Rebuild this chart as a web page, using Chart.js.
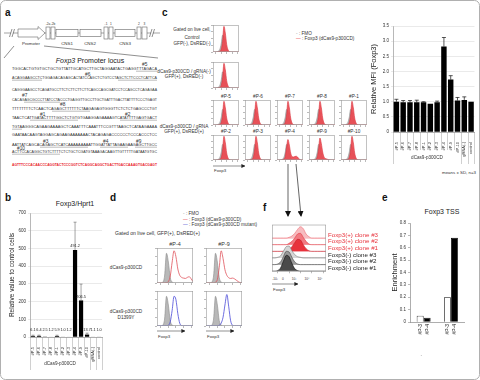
<!DOCTYPE html>
<html lang="en">
<head>
<meta charset="UTF-8">
<meta name="viewport" content="width=device-width, initial-scale=1.0">
<title>dCas9-p300CD at the Foxp3 promoter</title>
<script src="https://cdn.jsdelivr.net/npm/chart.js"></script>
<style>
  body { margin: 0; background: #fff; }
  #fig { position: relative; width: 480px; height: 380px; overflow: hidden; background: #fff; }
  #fig svg, #fig canvas { position: absolute; left: 0; top: 0; }
  text { font-family: "Liberation Sans", Arial, sans-serif; fill: #333; }
  .pl { font-size: 10px; font-weight: bold; fill: #111; }
  .ttl { font-size: 7px; fill: #222; }
  .lbl { font-size: 4.7px; }
  .sm { font-size: 4.4px; }
  .tiny { font-size: 3.2px; fill: #555; }
  .seq { font-family: "Liberation Serif", serif; font-size: 4.3px; fill: #444; }
  .hash { font-size: 4.8px; fill: #222; }
</style>
</head>
<body>
<div id="fig">
<svg width="480" height="380">
  <defs>
    <marker id="ah" markerWidth="4" markerHeight="4" refX="3.6" refY="2" orient="auto" markerUnits="userSpaceOnUse"><path d="M0,0 L4,2 L0,4 z" fill="#222"/></marker>
    <marker id="bigah" markerWidth="6" markerHeight="6" refX="5" refY="3" orient="auto" markerUnits="userSpaceOnUse"><path d="M0,0 L6,3 L0,6 z" fill="#111"/></marker>
  </defs>
  <rect x="0.5" y="0.5" width="479" height="379" rx="5" fill="none" stroke="#b0b0b0"/>

  <!-- a: promoter locus -->
  <text class="pl" x="5" y="16">a</text>
  <line x1="4" y1="33" x2="160" y2="33" stroke="#666" stroke-width="0.6"/>
  <g stroke="#666" stroke-width="0.6" fill="#fff">
    <path d="M18,29 H38 V26.5 L45,33 L38,39.5 V37 H18 Z"/>
    <rect x="46" y="27" width="4" height="12"/><rect x="51" y="27" width="4" height="12"/>
    <rect x="56" y="29.5" width="22" height="7"/>
    <rect x="80" y="29.5" width="21" height="7"/>
    <rect x="104" y="27" width="4" height="12"/><rect x="109" y="27" width="4" height="12"/>
    <rect x="115" y="29.5" width="20" height="7"/>
    <rect x="137" y="27" width="4" height="12"/><rect x="142" y="27" width="5" height="12"/>
  </g>
  <g stroke="#fff" stroke-width="2"><line x1="11" y1="33" x2="13" y2="33"/><line x1="151" y1="33" x2="153" y2="33"/></g>
  <g stroke="#444" stroke-width="0.6">
    <line x1="9.5" y1="37" x2="12" y2="29"/><line x1="12" y1="37" x2="14.5" y2="29"/>
    <line x1="149.5" y1="37" x2="152" y2="29"/><line x1="152" y1="37" x2="154.5" y2="29"/>
    <line x1="14" y1="46" x2="4" y2="58"/><line x1="44" y1="46" x2="158" y2="58"/>
  </g>
  <g class="tiny" text-anchor="middle">
    <text x="48" y="25">-2a</text><text x="53" y="25">-2b</text>
    <text x="106" y="25">-1</text><text x="111" y="25">1</text>
    <text x="139" y="25">2</text><text x="144.5" y="25">3</text>
  </g>
  <g class="sm" text-anchor="middle">
    <text x="31" y="45">Promoter</text><text x="67" y="45">CNS1</text>
    <text x="90" y="45">CNS2</text><text x="125" y="45">CNS3</text>
  </g>
  <text class="ttl" x="90" y="63" text-anchor="middle"><tspan font-style="italic">Foxp3</tspan> Promoter locus</text>
  <g class="seq">
    <text x="12" y="70" textLength="145" lengthAdjust="spacingAndGlyphs">TGGCACTGTGTGCTGCTGTTATTGCATGCTTGCTAGGAATACTGAGGTTTAGACA</text>
    <text x="12" y="79" textLength="145" lengthAdjust="spacingAndGlyphs">ACAGGAAGCCTCTGGAGACAGAGCACTATCCAGCTCTGTCCTAGCTCTTCCCTCATTCA</text>
    <text x="12" y="91" textLength="145" lengthAdjust="spacingAndGlyphs">CAGGGAAGCCTCAGATGCCTTCTCTTCTTCTTCAGCCAGCGATCCTCCAGCCTCAGAGAA</text>
    <text x="12" y="101" textLength="145" lengthAdjust="spacingAndGlyphs">CACAGAGCGCCCTTATCCTACCCTGAGGTTGCCTTGCTGATTTGACTTATTTTCCCTGAGT</text>
    <text x="12" y="110" textLength="145" lengthAdjust="spacingAndGlyphs">TTTTTTTTCTCAACTCAGAGCTTTTTTCTAAGAGAGTGGGTTCTCTCTGAGCCCTGT</text>
    <text x="12" y="119" textLength="145" lengthAdjust="spacingAndGlyphs">TAACTCATTGATACTTTTGGCTCTGTGTGAAGGAGAAAAGTCATATTTTGAGTGACT</text>
    <text x="12" y="128" textLength="145" lengthAdjust="spacingAndGlyphs">TGTAAGGGCAGAAGAAAAGCTCAAATTTCAAATTTCCGTTTAAGCTCATAAGAAAA</text>
    <text x="12" y="136" textLength="145" lengthAdjust="spacingAndGlyphs">GAATAACAAGTAGGAGCAGAAGAAAAAAACTACAGAGACCCCCCTCCCACCCTCC</text>
    <text x="12" y="146" textLength="145" lengthAdjust="spacingAndGlyphs">AATTATCAGCACAGAGCTCATCAAAAAAAAATTGGATTATTAGAAGAAGAGCTTGCC</text>
    <text x="12" y="153" textLength="145" lengthAdjust="spacingAndGlyphs">ACTTCCACAGGCTGTCTTTTCTCTGCTCGATGTAAAGACAAGTTGTTTTTGATAATGTGC</text>
    <text x="12" y="166" textLength="145" lengthAdjust="spacingAndGlyphs" style="fill:#e8202a;font-weight:bold">AGTTTCCCACAACCCAGGTACTCCCGGTCTCAGGCAGGCTGACTTGACCAAAGTGACGAGT</text>
  </g>
  <g stroke="#555" stroke-width="0.4">
    <line x1="136" y1="71.2" x2="157" y2="71.2"/>
    <line x1="12" y1="80.2" x2="42" y2="80.2"/><line x1="118" y1="80.2" x2="157" y2="80.2"/>
    <line x1="24" y1="102.2" x2="60" y2="102.2"/>
    <line x1="52" y1="111.2" x2="90" y2="111.2"/>
    <line x1="30" y1="120.2" x2="78" y2="120.2"/><line x1="120" y1="120.2" x2="157" y2="120.2"/>
    <line x1="12" y1="129.2" x2="22" y2="129.2"/>
    <line x1="40" y1="147.2" x2="88" y2="147.2"/><line x1="100" y1="147.2" x2="128" y2="147.2"/><line x1="135" y1="147.2" x2="157" y2="147.2"/>
    <line x1="12" y1="154.2" x2="60" y2="154.2"/>
  </g>
  <g class="hash">
    <text x="142" y="66">#5</text><text x="85" y="76">#6</text>
    <text x="22" y="97">#7</text><text x="60" y="106">#8</text>
    <text x="40" y="115.5">#1</text><text x="125" y="115.5">#2</text>
    <text x="43" y="142.5">#3</text><text x="103" y="142.5">#4</text><text x="136" y="142.5">#9</text>
    <text x="17" y="150">#10</text>
  </g>

  <!-- b -->
  <text class="pl" x="5" y="201">b</text>
  <text class="ttl" x="75" y="205.5" text-anchor="middle">Foxp3/Hprt1</text>

  <!-- c -->
  <text class="pl" x="162" y="16">c</text>
  <g class="lbl" text-anchor="middle">
    <text x="192" y="30.8">Gated on live cell,</text>
    <text x="192" y="38.8">Control</text>
    <text x="192" y="44.8">GFP(-), DsRED(-)</text>
    <text x="184" y="72.8">dCas9-p300CD / gRNA(-)</text>
    <text x="184" y="77.8">GFP(+), DsRED(-)</text>
    <text x="184" y="127.8">dCas9-p300CD / gRNA</text>
    <text x="184" y="132.8">GFP(+), DsRED(+)</text>
  </g>
  <g class="lbl" text-anchor="middle">
    <text x="226" y="97.8">#P-5</text><text x="258" y="97.8">#P-6</text><text x="290" y="97.8">#P-7</text><text x="322" y="97.8">#P-8</text><text x="354" y="97.8">#P-1</text>
    <text x="226" y="132.8">#P-2</text><text x="258" y="132.8">#P-3</text><text x="290" y="132.8">#P-4</text><text x="322" y="132.8">#P-9</text><text x="354" y="132.8">#P-10</text>
  </g>
  <g class="lbl">
    <text x="296" y="34.5"><tspan style="fill:#999">- </tspan>: FMO</text>
    <text x="296" y="39.5"><tspan style="fill:#e8323c">— </tspan>: Foxp3 (dCas9-p300CD)</text>
  </g>
  <line x1="213" y1="166" x2="245" y2="166" stroke="#222" stroke-width="0.5" marker-end="url(#ah)"/>
  <text class="sm" x="214" y="172">Foxp3</text>
  <text class="sm" x="476" y="174" text-anchor="end">means ± SD, n=3</text>
  <line x1="288" y1="164" x2="288" y2="216" stroke="#222" stroke-width="0.7" marker-end="url(#bigah)"/>
  <line x1="296" y1="164" x2="301" y2="216" stroke="#222" stroke-width="0.7" marker-end="url(#bigah)"/>

  <!-- d -->
  <text class="pl" x="110" y="201">d</text>
  <g class="lbl">
    <text x="183" y="215"><tspan style="fill:#999">- </tspan>: FMO</text>
    <text x="183" y="220.5"><tspan style="fill:#e8323c">— </tspan>: Foxp3 (dCas9-p300CD)</text>
    <text x="183" y="226"><tspan style="fill:#4040d0">— </tspan>: Foxp3 (dCas9-p300CD mutant)</text>
  </g>
  <text x="115" y="235" style="font-size:5.1px">Gated on live cell, GFP(+), DsRED(+)</text>
  <g text-anchor="middle" style="font-size:5.4px">
    <text x="175" y="246">#P-4</text><text x="224" y="246">#P-9</text>
  </g>
  <g class="lbl" text-anchor="middle">
    <text x="126" y="269">dCas9-p300CD</text>
    <text x="126" y="313">dCas9-p300CD</text>
    <text x="126" y="318.5">D1399Y</text>
  </g>
  <line x1="157" y1="331" x2="185" y2="331" stroke="#222" stroke-width="0.5" marker-end="url(#ah)"/>
  <line x1="206" y1="331" x2="234" y2="331" stroke="#222" stroke-width="0.5" marker-end="url(#ah)"/>
  <text class="sm" x="158" y="338">Foxp3</text>
  <text class="sm" x="207" y="338">Foxp3</text>

  <!-- e -->
  <text class="pl" x="382" y="201">e</text>
  <text class="ttl" x="442" y="213.5" text-anchor="middle">Foxp3 TSS</text>

  <!-- f -->
  <text class="pl" x="263" y="211">f</text>
  <g class="tiny" text-anchor="middle">
    <text x="275" y="280">-10³</text><text x="283" y="280">0</text><text x="294" y="280">10³</text><text x="307" y="280">10⁴</text><text x="320" y="280">10⁵</text>
  </g>
  <line x1="272" y1="284" x2="298" y2="284" stroke="#222" stroke-width="0.5" marker-end="url(#ah)"/>
  <text class="sm" x="273" y="290.5">Foxp3</text>
</svg>
<canvas id="hprt" width="104" height="166" style="left:2px;top:206px"></canvas>
<canvas id="mfi" width="118" height="162" style="left:360px;top:20px"></canvas>
<canvas id="tss" width="98" height="142" style="left:380px;top:214px"></canvas>
</div>
<script>
Chart.defaults.font.family = '"Liberation Sans", Arial, sans-serif';
Chart.defaults.color = '#333';
Chart.defaults.animation = false;

// ---- data ----
const guides = ['#P-5', '#P-6', '#P-7', '#P-8', '#P-1', '#P-2', '#P-3', '#P-4', '#P-9', '#P-10', 'gRNA(-)', 'control'];
const hprtValues = [6.1, 6.4, 2.5, 1.2, 5.9, 1.0, 1.2, 491.2, 206.5, 13.7, 1.1, 1.0];
const hprtErrors = [4, 4, 0, 0, 4, 0, 0, 157, 92, 8, 0, 0];
const mfiValues = [1.0, 0.98, 0.98, 0.98, 0.98, 0.93, 0.98, 2.82, 1.73, 1.04, 1.06, 1.0];
const mfiErrors = [0.08, 0.06, 0.06, 0.07, 0.02, 0, 0.04, 0.30, 0.13, 0.10, 0.10, 0];
const tssGroups = ['IgG', 'anti-H3Ac'];
const tssP3 = [0.05, 0.20];
const tssP4 = [0.035, 0.68];

// flow histograms, 20 bins along Foxp3 intensity
const bins = ['0', '1', '2', '3', '4', '5', '6', '7', '8', '9', '10', '11', '12', '13', '14', '15', '16', '17', '18', '19'];
const cRowTop = ['#P-5', '#P-6', '#P-7', '#P-8', '#P-1'];
const cRowBottom = ['#P-2', '#P-3', '#P-4', '#P-9', '#P-10'];
const cFmo   = [0, 0, 0, 1, 3, 10, 30, 62, 55, 28, 9, 2, 0, 0, 0, 0, 0, 0, 0, 0];
const cRed   = [0, 0, 0, 0, 1, 3, 10, 40, 95, 70, 28, 8, 2, 0, 0, 0, 0, 0, 0, 0];
const cRedP4 = [0, 0, 0, 0, 1, 4, 14, 52, 82, 60, 28, 14, 12, 14, 15, 12, 5, 1, 0, 0];
const cRedP9 = [0, 0, 0, 0, 1, 3, 12, 45, 88, 66, 32, 12, 6, 4, 2, 1, 0, 0, 0, 0];
const dFmo    = [0, 0, 0, 2, 20, 85, 60, 15, 3, 0, 0, 0, 0, 0, 0, 0, 0, 0, 0, 0];
const dRedP4  = [0, 0, 0, 0, 0, 1, 4, 20, 60, 92, 75, 40, 22, 16, 14, 13, 16, 18, 12, 4];
const dRedP9  = [0, 0, 0, 0, 0, 2, 10, 45, 92, 70, 38, 22, 15, 13, 14, 12, 8, 4, 1, 0];
const dBlueP4 = [0, 0, 0, 0, 0, 0, 2, 12, 45, 85, 75, 35, 8, 1, 0, 0, 0, 0, 0, 0];
const dBlueP9 = [0, 0, 0, 0, 0, 0, 0, 2, 8, 25, 60, 90, 55, 15, 2, 0, 0, 0, 0, 0];
const ridgeNames = ['Foxp3(-) clone #1', 'Foxp3(-) clone #2', 'Foxp3(-) clone #3', 'Foxp3(+) clone #1', 'Foxp3(+) clone #2', 'Foxp3(+) clone #3'];
const fNeg1 = [0, 0, 0.1, 0.5, 1.5, 2.4, 2.2, 1.2, 0.4, 0.1, 0, 0, 0, 0, 0, 0, 0, 0, 0, 0];
const fNeg2 = [0, 0, 0.1, 0.4, 1.2, 2.0, 1.9, 1.1, 0.4, 0.1, 0, 0, 0, 0, 0, 0, 0, 0, 0, 0];
const fNeg3 = [0, 0, 0.1, 0.3, 1.0, 1.7, 1.8, 1.1, 0.5, 0.2, 0.1, 0, 0, 0, 0, 0, 0, 0, 0, 0];
const fPos1 = [0, 0, 0, 0, 0, 0.1, 0.3, 0.7, 1.3, 1.8, 1.7, 1.0, 0.4, 0.1, 0, 0, 0, 0, 0, 0];
const fPos2 = [0, 0, 0, 0, 0, 0, 0.2, 0.5, 1.0, 1.6, 1.7, 1.1, 0.5, 0.1, 0, 0, 0, 0, 0, 0];
const fPos3 = [0, 0, 0, 0, 0, 0, 0.1, 0.3, 0.7, 1.3, 1.7, 1.4, 0.6, 0.2, 0, 0, 0, 0, 0, 0];

// ---- plugins ----
const errorBars = {
  id: 'errorBars',
  afterDatasetsDraw(chart, args, o) {
    const {ctx, chartArea, scales: {y}} = chart;
    const bars = chart.getDatasetMeta(0).data;
    const vals = chart.data.datasets[0].data;
    ctx.save();
    ctx.strokeStyle = o.color; ctx.lineWidth = o.width;
    bars.forEach((bar, i) => {
      if (!o.errors[i]) return;
      const top = y.getPixelForValue(vals[i] + o.errors[i]);
      ctx.beginPath();
      ctx.moveTo(bar.x, bar.y); ctx.lineTo(bar.x, top);
      ctx.moveTo(bar.x - o.cap, top); ctx.lineTo(bar.x + o.cap, top);
      ctx.stroke();
    });
    if (o.labels) {
      ctx.fillStyle = '#222'; ctx.font = '3.8px "Liberation Sans"';
      ctx.textAlign = 'center'; ctx.textBaseline = 'bottom';
      bars.forEach((bar, i) => ctx.fillText(vals[i].toFixed(1), bar.x, Math.min(bar.y - 2, chartArea.bottom - 5)));
    }
    ctx.restore();
  }
};

// category cells under the x axis, with a group caption
const groupAxis = {
  id: 'groupAxis',
  afterDraw(chart, args, o) {
    const {ctx, chartArea: {bottom}, scales: {x}} = chart;
    const n = chart.data.labels.length;
    const step = x.getPixelForValue(1) - x.getPixelForValue(0);
    ctx.save();
    ctx.strokeStyle = o.color; ctx.lineWidth = 0.5;
    for (let i = -1; i < n; i++) {
      const px = Math.round(x.getPixelForValue(0) + step * (i + 0.5)) + 0.5;
      const len = o.long.includes(i) ? o.longLen : o.shortLen;
      ctx.beginPath(); ctx.moveTo(px, bottom); ctx.lineTo(px, bottom + len); ctx.stroke();
    }
    const x0 = x.getPixelForValue(0) - step / 2;
    const x1 = x.getPixelForValue(o.groupEnd) + step / 2;
    ctx.fillStyle = '#333'; ctx.font = o.font;
    ctx.textAlign = 'center'; ctx.textBaseline = 'middle';
    ctx.fillText(o.group, (x0 + x1) / 2, bottom + o.textY);
    ctx.restore();
  }
};

// rotated dataset names under each bar
const barNames = {
  id: 'barNames',
  afterDatasetsDraw(chart, args, o) {
    const {ctx, chartArea: {bottom}} = chart;
    ctx.save();
    ctx.font = o.font; ctx.fillStyle = '#222';
    ctx.textAlign = 'right'; ctx.textBaseline = 'middle';
    chart.data.datasets.forEach((ds, d) => chart.getDatasetMeta(d).data.forEach(bar => {
      ctx.save(); ctx.translate(bar.x, bottom + 2); ctx.rotate(-Math.PI / 2);
      ctx.fillText(ds.label, 0, 0); ctx.restore();
    }));
    ctx.restore();
  }
};

const frame = {
  id: 'frame',
  afterDraw(chart) {
    const {ctx, chartArea: a} = chart;
    ctx.save(); ctx.strokeStyle = '#9a9a9a'; ctx.lineWidth = 0.6;
    ctx.strokeRect(a.left + 0.3, a.top + 0.3, a.width - 0.6, a.height - 0.6);
    ctx.restore();
  }
};

const quiet = {legend: {display: false}, tooltip: {enabled: false}};

// ---- b ----
new Chart(document.getElementById('hprt'), {
  type: 'bar',
  data: {labels: guides, datasets: [{data: hprtValues, backgroundColor: '#000', barPercentage: 0.7, categoryPercentage: 1}]},
  options: {
    responsive: false, events: [], layout: {padding: {top: 7, right: 3}},
    plugins: {...quiet,
      errorBars: {errors: hprtErrors, color: '#666', width: 0.6, cap: 1.5, labels: true},
      groupAxis: {group: 'dCas9-p300CD', groupEnd: 9, long: [-1, 9, 10, 11], shortLen: 18, longLen: 33, textY: 27, font: '4.6px "Liberation Sans"', color: '#a0a0a0'}},
    scales: {
      x: {grid: {display: false}, border: {color: '#888', width: 0.6},
          ticks: {autoSkip: false, minRotation: 90, maxRotation: 90, font: {size: 4}, padding: 2},
          afterFit: s => { s.height = 35; }},
      y: {min: 0, max: 700, ticks: {stepSize: 100, font: {size: 4.5}, padding: 2},
          grid: {color: '#d4d4d4', lineWidth: 0.5, tickLength: 2}, border: {color: '#888', width: 0.6},
          title: {display: true, text: 'Relative value to control cells', font: {size: 6.5}, color: '#222', padding: {top: 6, bottom: 0}},
          afterFit: s => { s.width = 28; }}
    }
  },
  plugins: [errorBars, groupAxis]
});

// ---- c: relative MFI ----
new Chart(document.getElementById('mfi'), {
  type: 'bar',
  data: {labels: guides, datasets: [{data: mfiValues, backgroundColor: '#000', barPercentage: 0.8, categoryPercentage: 1}]},
  options: {
    responsive: false, events: [], layout: {padding: {top: 6, right: 3}},
    plugins: {...quiet,
      errorBars: {errors: mfiErrors, color: '#111', width: 0.7, cap: 2},
      groupAxis: {group: 'dCas9-p300CD', groupEnd: 9, long: [-1, 9, 10, 11], shortLen: 18, longLen: 32, textY: 26, font: '4.6px "Liberation Sans"', color: '#a0a0a0'}},
    scales: {
      x: {grid: {display: false}, border: {color: '#888', width: 0.6},
          ticks: {autoSkip: false, minRotation: 90, maxRotation: 90, font: {size: 4}, padding: 2},
          afterFit: s => { s.height = 50; }},
      y: {min: 0, max: 3.5, ticks: {stepSize: 0.5, font: {size: 4.5}, padding: 2},
          grid: {color: '#d4d4d4', lineWidth: 0.5, tickLength: 2}, border: {color: '#888', width: 0.6},
          title: {display: true, text: 'Relative MFI (Foxp3)', font: {size: 7.5}, color: '#222', padding: {top: 9.5, bottom: 0}},
          afterFit: s => { s.width = 33; }}
    }
  },
  plugins: [errorBars, groupAxis]
});

// ---- e ----
new Chart(document.getElementById('tss'), {
  type: 'bar',
  data: {labels: tssGroups, datasets: [
    {label: '#P-3', data: tssP3, backgroundColor: '#fff', borderColor: '#111', borderWidth: 0.8},
    {label: '#P-4', data: tssP4, backgroundColor: '#000', borderColor: '#000', borderWidth: 0.8}]},
  options: {
    responsive: false, events: [], layout: {padding: {top: 9, right: 3}},
    datasets: {bar: {categoryPercentage: 0.51, barPercentage: 1}},
    plugins: {...quiet, barNames: {font: '5px "Liberation Sans"'}},
    scales: {
      x: {grid: {display: false}, border: {color: '#777', width: 0.6},
          ticks: {padding: 24, font: {size: 6.2}, color: '#222'},
          afterFit: s => { s.height = 34; }},
      y: {min: 0, max: 0.8, ticks: {stepSize: 0.1, font: {size: 4.5}, padding: 2, callback: v => v === 0 ? '0' : v.toFixed(1)},
          grid: {drawOnChartArea: false, tickLength: 2, color: '#777', lineWidth: 0.5}, border: {color: '#777', width: 0.6},
          title: {display: true, text: 'Enrichment', font: {size: 7.5}, color: '#222', padding: {top: 10.5, bottom: 0}},
          afterFit: s => { s.width = 30; }}
    }
  },
  plugins: [barNames]
});

// ---- histograms ----
function addCanvas(id, x, y, w, h) {
  const c = document.createElement('canvas');
  c.id = id; c.width = w; c.height = h;
  c.style.left = x + 'px'; c.style.top = y + 'px';
  document.getElementById('fig').appendChild(c);
  return c;
}

function hist(id, x, y, w, h, sets, yMax) {
  const canvas = addCanvas(id, x - 3, y, w + 3, h + 3);
  return new Chart(canvas, {
    type: 'line',
    data: {labels: bins, datasets: sets.map(s => ({
      data: s.data, fill: s.fill ? 'origin' : false, backgroundColor: s.fill || 'rgba(0,0,0,0)',
      borderColor: s.line, borderWidth: s.width || 0.6, pointRadius: 0, cubicInterpolationMode: 'monotone'}))},
    options: {
      responsive: false, events: [], layout: {padding: 0}, plugins: quiet,
      scales: {
        x: {grid: {drawOnChartArea: false, tickLength: 2, lineWidth: 0.5, color: c => c.index % 4 === 2 ? '#777' : 'rgba(0,0,0,0)'},
            border: {display: false}, ticks: {display: false}, afterFit: s => { s.height = 3; }},
        y: {min: 0, max: yMax, grid: {drawOnChartArea: false, tickLength: 2, lineWidth: 0.5, color: '#777'},
            border: {display: false}, ticks: {display: false, stepSize: yMax / 4}, afterFit: s => { s.width = 3; }}
      }
    },
    plugins: [frame]
  });
}

const redFill = 'rgba(236,70,78,0.9)', redLine = '#d8303a';
const grayFill = 'rgba(175,175,175,0.9)', grayLine = '#888';
const colX = [213, 245, 277, 309, 341];

hist('hCtrl', 213, 25, 26, 27, [{data: cRed, fill: redFill, line: redLine}, {data: cFmo, fill: grayFill, line: grayLine}], 100);
hist('hNoGuide', 213, 62, 26, 26, [{data: cRed, fill: redFill, line: redLine}, {data: cFmo, fill: grayFill, line: grayLine}], 100);
[[cRowTop, 100], [cRowBottom, 135]].forEach(([row, y]) => row.forEach((g, i) => {
  const curve = g === '#P-4' ? cRedP4 : g === '#P-9' ? cRedP9 : cRed;
  hist('h' + g, colX[i], y, 26, 25, [{data: curve, fill: redFill, line: redLine}, {data: cFmo, fill: grayFill, line: grayLine}], 100);
}));

const dGray = {data: dFmo, fill: 'rgba(180,180,180,0.95)', line: '#8c8c8c'};
hist('dP4', 157, 248, 36, 35, [{data: dRedP4, line: '#e0525a', width: 0.8}, dGray], 100);
hist('dP9', 206, 248, 36, 35, [{data: dRedP9, line: '#e0525a', width: 0.8}, dGray], 100);
hist('dP4m', 157, 291, 36, 35, [{data: dBlueP4, line: '#4a4ad8', width: 0.8}, dGray], 100);
hist('dP9m', 206, 291, 36, 35, [{data: dBlueP9, line: '#4a4ad8', width: 0.8}, dGray], 100);

// ---- f: stacked clone histograms ----
const ridgeSets = [
  {data: fNeg1, fill: '#4a4a4a', line: '#111'},
  {data: fNeg2, fill: '#9a9a9a', line: '#444'},
  {data: fNeg3, fill: '#d6d6d6', line: '#777'},
  {data: fPos1, fill: '#e8323c', line: '#c41e28'},
  {data: fPos2, fill: '#f27a82', line: '#e0404a'},
  {data: fPos3, fill: '#f7bcc0', line: '#ee6a72'}
];
new Chart(addCanvas('ridge', 272, 219, 54 + 72, 55 + 3), {
  type: 'line',
  data: {labels: bins, datasets: ridgeSets.map((r, k) => ({
    data: r.data.map(v => v + k), fill: {value: k}, backgroundColor: r.fill, borderColor: r.line,
    borderWidth: 0.6, pointRadius: 0, cubicInterpolationMode: 'monotone'}))},
  options: {
    responsive: false, events: [], layout: {padding: 0}, plugins: quiet,
    scales: {
      x: {grid: {drawOnChartArea: false, tickLength: 2, lineWidth: 0.5, color: c => c.index % 4 === 2 ? '#777' : 'rgba(0,0,0,0)'},
          border: {display: false}, ticks: {display: false}, afterFit: s => { s.height = 3; }},
      y: {position: 'right', min: 0, max: 7,
          afterBuildTicks: s => { s.ticks = ridgeNames.map((n, k) => ({value: k})); },
          ticks: {autoSkip: false, padding: 2, labelOffset: -3, font: {size: 6.2}, color: c => c.index >= 3 ? '#e8323c' : '#222', callback: (v, i) => ridgeNames[i]},
          grid: {drawTicks: false, lineWidth: 0.5, color: c => c.index >= 3 ? '#f3a3a8' : '#aaa'},
          border: {display: false}, afterFit: s => { s.width = 72; }}
    }
  },
  plugins: [frame]
});
</script>
</body>
</html>
